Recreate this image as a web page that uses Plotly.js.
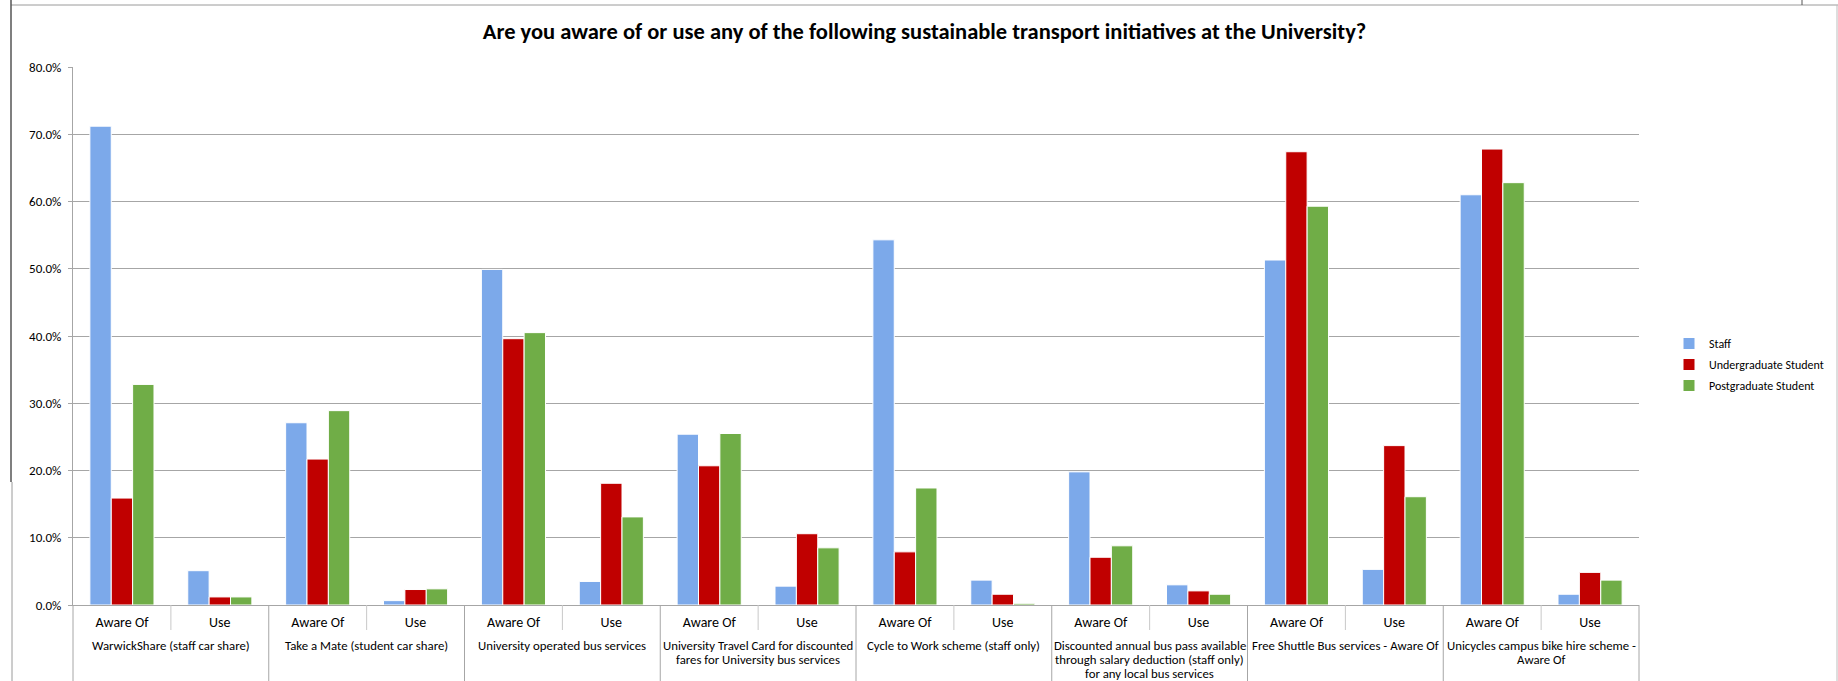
<!DOCTYPE html>
<html>
<head>
<meta charset="utf-8">
<script src="https://cdn.plot.ly/plotly-3.0.1.min.js"></script>
<style>html,body{margin:0;padding:0;background:#fff;}#chart{width:1838px;height:681px;}</style>
</head>
<body>
<div id="chart"></div>
<script>
// ---- data (percent) ----
var groups = [
  "WarwickShare (staff car share)",
  "Take a Mate (student car share)",
  "University operated bus services",
  "University Travel Card for discounted<br>fares for University bus services",
  "Cycle to Work scheme (staff only)",
  "Discounted annual bus pass available<br>through salary deduction (staff only)<br>for any local bus services",
  "Free Shuttle Bus services - Aware Of",
  "Unicycles campus bike hire scheme -<br>Aware Of"
];
var subCats = ["Aware Of", "Use"];
var seriesNames = ["Staff", "Undergraduate Student", "Postgraduate Student"];
var staff = [71.2, 5.1, 27.1, 0.65, 49.9, 3.5, 25.4, 2.8, 54.3, 3.7, 19.8, 3.0, 51.3, 5.3, 61.0, 1.6];
var undergrad = [15.9, 1.2, 21.7, 2.3, 39.6, 18.1, 20.7, 10.6, 7.9, 1.6, 7.1, 2.1, 67.4, 23.7, 67.8, 4.85];
var postgrad = [32.8, 1.2, 28.9, 2.4, 40.5, 13.1, 25.5, 8.5, 17.4, 0.25, 8.8, 1.6, 59.3, 16.1, 62.8, 3.7];
var yTicks = [0, 10, 20, 30, 40, 50, 60, 70, 80];

// ---- build x positions / labels ----
var xPos = [], innerLabels = [];
groups.forEach(function (g, gi) {
  subCats.forEach(function (s, si) {
    xPos.push(gi * subCats.length + si);
    innerLabels.push(s);
  });
});
var yTickText = yTicks.map(function (v) { return v.toFixed(1) + "%"; });

var colors = ["#7CA9EA", "#C00000", "#70AD47"];
var values = [staff, undergrad, postgrad];
var FONT = "Carlito, Calibri, Lato, 'Open Sans', sans-serif";

var traces = values.map(function (v, i) {
  return {
    type: "bar",
    name: seriesNames[i],
    x: xPos,
    y: v,
    legendgroup: "g" + i,
    marker: { color: colors[i], line: { color: "#ffffff", width: 1 } },
    hoverinfo: "skip"
  };
});

// geometry helpers (pixel -> paper), plot area 73..1639 x, 67..605 y
var L = 73, R = 1639, T = 67, B = 605;
function px(x) { return (x - L) / (R - L); }
function py(y) { return (B - y) / (B - T); }

var nCat = xPos.length;
var shapes = [];
// inner separators (between sub-categories)
for (var k = 1; k < nCat; k += 2) {
  shapes.push({ type: "line", xref: "paper", yref: "paper", x0: k / nCat, x1: k / nCat,
    y0: 0, y1: py(630), line: { color: "#c8c8c8", width: 1 } });
}
// group dividers
for (var k2 = 0; k2 <= nCat; k2 += 2) {
  shapes.push({ type: "line", xref: "paper", yref: "paper", x0: k2 / nCat, x1: k2 / nCat,
    y0: 0, y1: py(700), line: { color: "#a6a6a6", width: 1 } });
}
// outer chart frame
shapes.push({ type: "line", xref: "paper", yref: "paper", x0: px(11), x1: px(1838), y0: py(5), y1: py(5), line: { color: "#9a9a9a", width: 1 } });
shapes.push({ type: "line", xref: "paper", yref: "paper", x0: px(11), x1: px(11), y0: py(0), y1: py(482), line: { color: "#555555", width: 1.5 } });
shapes.push({ type: "line", xref: "paper", yref: "paper", x0: px(12), x1: px(12), y0: py(482), y1: py(700), line: { color: "#9a9a9a", width: 1 } });
shapes.push({ type: "line", xref: "paper", yref: "paper", x0: px(1837), x1: px(1837), y0: py(5), y1: py(700), line: { color: "#bdbdbd", width: 1 } });
shapes.push({ type: "line", xref: "paper", yref: "paper", x0: px(1802), x1: px(1802), y0: py(0), y1: py(5), line: { color: "#555555", width: 1 } });

// group (outer) labels: one annotation per text line, centred under each pair
var annotations = [];
var LINE_GAP = 14, FIRST_LINE = 40;
groups.forEach(function (g, gi) {
  g.split("<br>").forEach(function (line, li) {
    annotations.push({
      text: line, x: gi * subCats.length + (subCats.length - 1) / 2, xref: "x",
      y: 0, yref: "paper", yanchor: "middle", xanchor: "center",
      yshift: -(FIRST_LINE + li * LINE_GAP),
      showarrow: false, align: "center", borderpad: 0,
      font: { family: FONT, size: 12.8, color: "#000000" }
    });
  });
});

var layout = {
  width: 1838, height: 681,
  margin: { l: L, r: 1838 - R, t: T, b: 681 - B, pad: 0, autoexpand: false },
  paper_bgcolor: "#ffffff", plot_bgcolor: "#ffffff",
  font: { family: FONT, size: 13, color: "#000000" },
  title: {
    text: "<b>Are you aware of or use any of the following sustainable transport initiatives at the University?</b>",
    font: { family: FONT, size: 22.5, color: "#000000" },
    x: 0.503, xref: "container", xanchor: "center",
    y: 1 - 31 / 681, yref: "container", yanchor: "middle"
  },
  barmode: "group",
  bargap: 0.345,
  bargroupgap: 0,
  showlegend: true,
  legend: {
    xref: "container", x: 1669 / 1838, xanchor: "left",
    y: py(329), yanchor: "top",
    font: { family: FONT, size: 12, color: "#000000" },
    bgcolor: "rgba(0,0,0,0)", traceorder: "grouped", tracegroupgap: 2,
    itemclick: false
  },
  xaxis: {
    type: "linear",
    range: [-0.5, nCat - 0.5],
    tickvals: xPos, ticktext: innerLabels,
    showline: true, linecolor: "#a6a6a6", linewidth: 1,
    ticks: "", showgrid: false, zeroline: false,
    tickfont: { family: FONT, size: 14, color: "#000000" },
    ticklabelstandoff: 4,
    fixedrange: true
  },
  yaxis: {
    range: [0, 80],
    tickvals: yTicks, ticktext: yTickText,
    showgrid: true, gridcolor: "#a6a6a6", gridwidth: 1,
    zeroline: false,
    showline: true, linecolor: "#a6a6a6", linewidth: 1,
    ticks: "outside", ticklen: 4, tickcolor: "#a6a6a6",
    tickfont: { family: FONT, size: 13, color: "#000000" },
    ticklabelstandoff: 4,
    fixedrange: true
  },
  shapes: shapes,
  annotations: annotations
};

Plotly.newPlot("chart", traces, layout, { displayModeBar: false, staticPlot: true });
</script>
</body>
</html>
